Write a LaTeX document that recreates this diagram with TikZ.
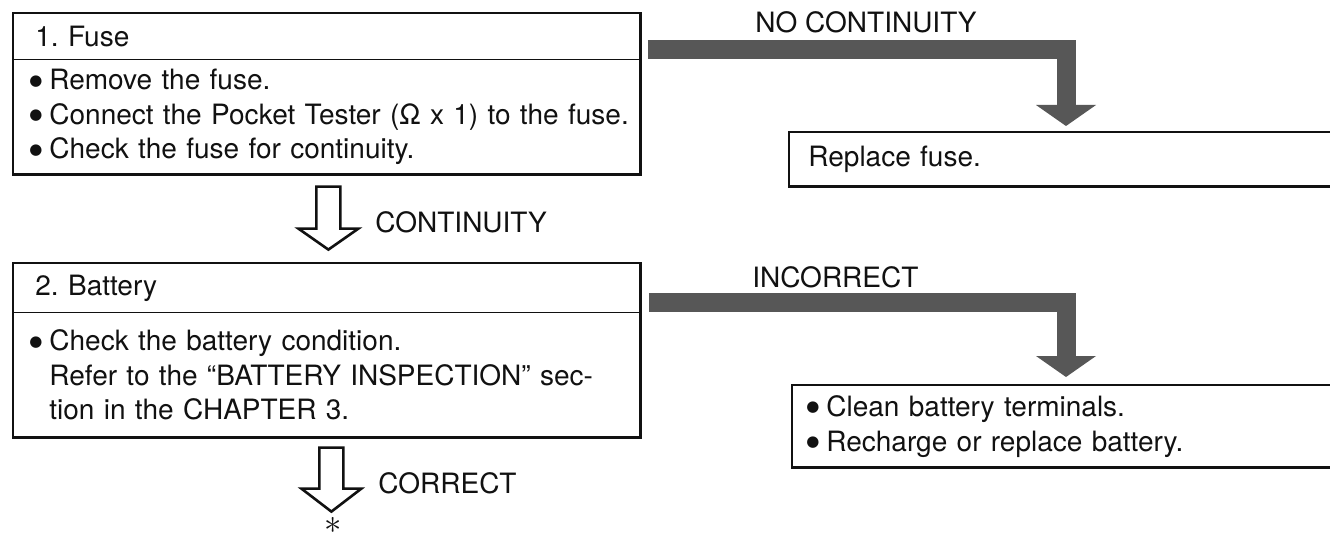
\documentclass[tikz,border=0pt]{standalone}
\usepackage{fontspec}
\setmainfont{TeX Gyre Heros}
\newfontfamily\symfont{DejaVu Sans}
\usetikzlibrary{arrows.meta,positioning}
\definecolor{ink}{HTML}{111111}
\definecolor{shade}{HTML}{575757}
\frenchspacing
\newcommand{\blt}{\makebox[10pt][l]{\raisebox{2.3pt}{\symfont\fontsize{7.5}{7.5}\selectfont ●}}}
\tikzset{
  every node/.style={font=\fontsize{14}{17.25}\selectfont,text=ink,inner sep=0},
  frame/.style={draw=ink,line width=1.4pt},
  rule/.style={draw=ink,line width=.7pt},
  headbox/.style={anchor=north west,align=left,inner xsep=11pt,text width=291.5pt},
  bodybox/.style={anchor=north west,align=left,inner xsep=8pt,text width=297.5pt},
  sidebox/.style={anchor=north west,align=left},
  bar/.style={draw=shade,line width=9.5pt,-{Triangle[width=30pt,length=10.5pt,line width=0pt]}},
  hollow/.style={draw=ink,line width=1.3pt,fill=white,line join=miter},
  tag/.style={anchor=west}
}
\begin{document}
\begin{tikzpicture}[x=0.5pt,y=-0.5pt]
\path[use as bounding box,fill=white] (0,0) rectangle (1330,535);
% step 1: fuse
\node[headbox,minimum height=23pt] (fusehead) at (13,13) {1.\ Fuse};
\node[bodybox,minimum height=57pt] (fusebody) at (fusehead.south west)
 {\blt Remove the fuse.\\\blt \mbox{Connect the Pocket Tester (Ω x 1) to the fuse.}\\\blt Check the fuse for continuity.};
\draw[frame] (fusehead.north west) rectangle (fusebody.south east);
\draw[rule] (fusehead.south west) -- (fusehead.south east);
% step 2: battery
\node[headbox,minimum height=24.5pt] (batthead) at (13,263) {2.\ Battery};
\node[bodybox,minimum height=62pt] (battbody) at (batthead.south west)
 {\blt Check the battery condition.\\
  \hspace*{10pt}\makebox[281.5pt][s]{Refer to the “BATTERY INSPECTION” sec-}\\
  \hspace*{10pt}tion in the CHAPTER 3.};
\draw[frame] (batthead.north west) rectangle (battbody.south east);
\draw[rule] (batthead.south west) -- (batthead.south east);
% remedies, open on the right
\node[sidebox,inner xsep=9.5pt,text width=251.5pt,minimum height=27pt] (fixbox) at (789,132) {Replace fuse.};
\draw[frame] (fixbox.north east) -- (fixbox.north west) -- (fixbox.south west) -- (fixbox.south east);
\node[sidebox,inner xsep=7pt,text width=255pt,minimum height=41pt] (cleanbox) at (792,385)
 {\blt Clean battery terminals.\\\blt Recharge or replace battery.};
\draw[frame] (cleanbox.north east) -- (cleanbox.north west) -- (cleanbox.south west) -- (cleanbox.south east);
% failure branches
\coordinate (fixtip) at (1066,126);
\coordinate (cleantip) at (1066,377);
\draw[bar] ([shift={(7,-10)}]fusehead.south east) -| (fixtip);
\draw[bar] ([shift={(8,-10)}]batthead.south east) -| (cleantip);
\node[tag] (nocont) at (755,22) {NO CONTINUITY};
\node[tag] (incorr) at (752,277) {INCORRECT};
% pass branches
\draw[hollow] ([shift={(1.5,12)}]fusebody.south) ++(-12,0) -- ++(0,42) -- ++(-18,0) -- ++(30,21) -- ++(30,-21) -- ++(-18,0) -- ++(0,-42) -- cycle;
\node[tag] (cont) at (375,222) {CONTINUITY};
\draw[hollow] ([shift={(4.5,10)}]battbody.south) ++(-12,0) -- ++(0,41) -- ++(-18,0) -- ++(30,23) -- ++(30,-23) -- ++(-18,0) -- ++(0,-41) -- cycle;
\node[tag] (corr) at (378,483) {CORRECT};
\node[anchor=north] (next) at (333,517) {\fontsize{19}{19}\selectfont$\ast$};
\end{tikzpicture}
\end{document}
